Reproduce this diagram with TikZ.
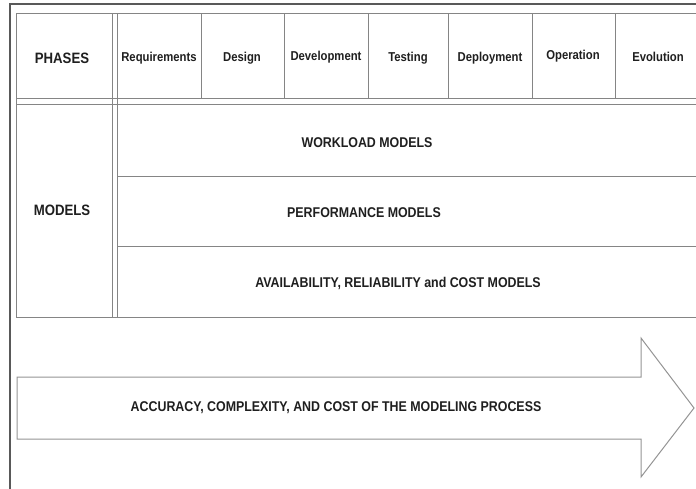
\documentclass[tikz,border=0pt]{standalone}
\usepackage{fontspec}
\setmainfont{Liberation Sans}
\newcommand{\tall}[1]{\scalebox{1}[1.14]{#1}}
\begin{document}
\begin{tikzpicture}[x=1pt,y=-1pt,
  frame/.style={draw=black!65, line width=1.6pt},
  grid/.style={draw=black!48, line width=1pt},
  arrowshape/.style={draw=black!42, line width=1pt},
  hdr/.style={font=\fontsize{11.3}{13}\selectfont\bfseries, text=black!88, inner sep=0pt},
  big/.style={font=\fontsize{13.2}{15}\selectfont\bfseries, text=black!88, inner sep=0pt},
  rowlab/.style={font=\fontsize{12.4}{14}\selectfont\bfseries, text=black!88, inner sep=0pt}]
\useasboundingbox (0,0) rectangle (696,488);
\fill[white] (0,0) rectangle (696,488);
\clip (0,0) rectangle (696,488);
% outer frame
\draw[frame] (10,490) -- (10,4) -- (700,4);
% table
\draw[grid] (700,13) -- (16,13) -- (16,317) -- (700,317);
\draw[grid] (16,98) -- (700,98);
\draw[grid] (16,104) -- (700,104);
\draw[grid] (112,13) -- (112,317);
\draw[grid] (117,13) -- (117,317);
\foreach \x in {201,284,368,448,532,615} \draw[grid] (\x,13) -- (\x,98);
\draw[grid] (117,176) -- (700,176);
\draw[grid] (117,246) -- (700,246);
% header labels
\node[big] (phases) at (62,58) {\tall{PHASES}};
\node[hdr] (req) at (159,58) {\tall{Requirements}};
\node[hdr] (des) at (242,58) {\tall{Design}};
\node[hdr] (dev) at (326,57) {\tall{Development}};
\node[hdr] (tes) at (408,58) {\tall{Testing}};
\node[hdr] (dep) at (490,58) {\tall{Deployment}};
\node[hdr] (ope) at (573,56) {\tall{Operation}};
\node[hdr] (evo) at (658,57) {\tall{Evolution}};
% model labels
\node[big] (models) at (62,210) {\tall{MODELS}};
\node[rowlab] (wl) at (367,143) {\tall{WORKLOAD MODELS}};
\node[rowlab] (pf) at (364,213) {\tall{PERFORMANCE MODELS}};
\node[rowlab] (ar) at (398,283) {\tall{AVAILABILITY, RELIABILITY and COST MODELS}};
% arrow
\draw[arrowshape] (17,377) -- (641,377) -- (641,338) -- (694,408) -- (641,477) -- (641,439) -- (17,439) -- cycle;
\node[rowlab] (acc) at (336,408) {\tall{ACCURACY, COMPLEXITY, AND COST OF THE MODELING PROCESS}};
\end{tikzpicture}
\end{document}
